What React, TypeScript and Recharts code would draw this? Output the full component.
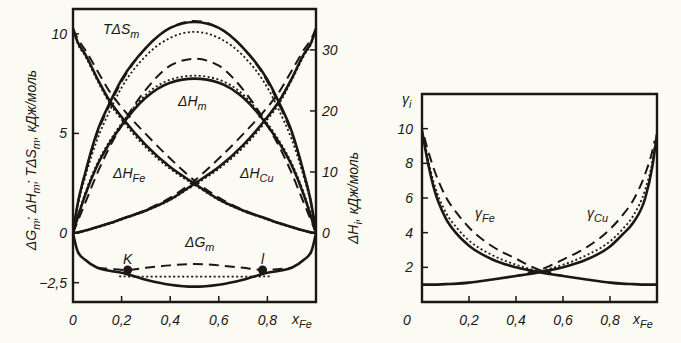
import { LineChart, Line, XAxis, YAxis, ReferenceArea, ReferenceDot } from "recharts";

const INK = "#1a1714";
const PAPER = "#fbfaf3";
const FONT = "'Liberation Sans', Arial, sans-serif";

// mole fraction of Fe, shared grid for the left panel curves
const xFe = [0, 0.02, 0.05, 0.1, 0.15, 0.2, 0.3, 0.4, 0.5, 0.6, 0.7, 0.8, 0.85, 0.9, 0.95, 0.98, 1];

// left panel, kJ/mol (left axis)
const tdsSolid = [0, 1.5, 3.0, 5.1, 6.5, 7.7, 9.3, 10.3, 10.6, 10.3, 9.3, 7.7, 6.5, 5.1, 3.0, 1.5, 0];
const tdsDotted = [0, 1.4, 2.8, 4.7, 6.1, 7.3, 8.9, 9.8, 10.1, 9.8, 8.9, 7.3, 6.1, 4.7, 2.8, 1.4, 0];
const tdsDashed = [0, 1.5, 3.0, 5.0, 6.4, 7.6, 9.3, 10.3, 10.65, 10.3, 9.3, 7.6, 6.4, 5.0, 3.0, 1.5, 0];

const dhmSolid = [0, 0.8, 1.9, 3.4, 4.5, 5.4, 6.8, 7.55, 7.75, 7.55, 6.8, 5.4, 4.5, 3.4, 1.9, 0.8, 0];
const dhmDotted = [0, 0.85, 2.0, 3.5, 4.6, 5.5, 6.95, 7.7, 7.9, 7.7, 6.95, 5.5, 4.6, 3.5, 2.0, 0.85, 0];
const dhmDashed = [0, 0.6, 1.5, 3.0, 4.3, 5.4, 7.2, 8.4, 8.75, 8.4, 7.2, 5.4, 4.3, 3.0, 1.5, 0.6, 0];

const dgmSolid = [0, -0.95, -1.35, -1.75, -1.9, -2.0, -2.35, -2.6, -2.7, -2.6, -2.35, -2.0, -1.9, -1.75, -1.35, -0.95, 0];
const xDgDashed = [0.1, 0.225, 0.3, 0.4, 0.5, 0.6, 0.7, 0.78, 0.9];
const dgmDashed = [-1.75, -1.86, -1.75, -1.63, -1.56, -1.63, -1.75, -1.86, -1.75];
const xDgDotted = [0.19, 0.3, 0.5, 0.7, 0.81];
const dgmDotted = [-2.18, -2.2, -2.2, -2.2, -2.18];

// points K and l on the dashed ΔGm curve
const kPoint = { x: 0.225, y: -1.86 };
const lPoint = { x: 0.78, y: -1.86 };

// partial molar enthalpies, kJ/mol (right axis)
const dhFeSolid = [33.5, 31.2, 29.3, 25.3, 21.7, 19.0, 14.4, 10.8, 8.1, 5.5, 3.7, 2.3, 1.6, 1.0, 0.4, 0.1, 0];
const dhFeDotted = [33.5, 31.0, 29.0, 25.0, 21.3, 18.6, 14.0, 10.5, 7.9, 5.4, 3.6, 2.2, 1.5, 0.9, 0.35, 0.1, 0];
const dhFeDashed = [33.5, 31.8, 30.0, 26.6, 23.2, 20.6, 16.2, 12.2, 8.6, 5.8, 3.8, 2.3, 1.6, 1.0, 0.4, 0.1, 0];
const dhCuSolid = [0, 0.1, 0.4, 1.0, 1.6, 2.3, 3.7, 5.5, 8.1, 10.8, 14.4, 19.0, 21.7, 25.3, 29.3, 31.2, 33.5];
const dhCuDotted = [0, 0.1, 0.35, 0.9, 1.5, 2.2, 3.6, 5.4, 7.9, 10.5, 14.0, 18.6, 21.3, 25.0, 29.0, 31.0, 33.5];
const dhCuDashed = [0, 0.1, 0.4, 1.0, 1.6, 2.3, 3.8, 5.8, 8.6, 12.2, 16.2, 20.6, 23.2, 26.6, 30.0, 31.8, 33.5];

// right panel: activity coefficients
const xG = [0, 0.02, 0.05, 0.1, 0.15, 0.2, 0.3, 0.4, 0.5, 0.6, 0.7, 0.8, 0.85, 0.9, 0.95, 0.98, 1];
const gFeSolid = [9.9, 8.4, 6.6, 4.85, 3.9, 3.25, 2.45, 2.0, 1.72, 1.5, 1.3, 1.12, 1.06, 1.03, 1.0, 1.0, 1.0];
const gCuSolid = [1.0, 1.0, 1.0, 1.03, 1.06, 1.12, 1.3, 1.5, 1.72, 2.0, 2.45, 3.2, 3.85, 4.6, 6.0, 7.8, 9.7];
const xGFe = [0.01, 0.02, 0.05, 0.1, 0.15, 0.2, 0.3, 0.4, 0.5, 0.55];
const gFeDotted = [9.3, 8.6, 6.9, 5.2, 4.25, 3.55, 2.7, 2.15, 1.78, 1.65];
const gFeDashed = [9.5, 9.0, 7.7, 6.1, 5.1, 4.3, 3.2, 2.5, 1.85, 1.7];
const xGCu = [0.45, 0.5, 0.6, 0.7, 0.8, 0.85, 0.9, 0.95, 0.98, 0.99];
const gCuDotted = [1.65, 1.78, 2.15, 2.7, 3.5, 4.15, 5.0, 6.5, 8.1, 9.0];
const gCuDashed = [1.7, 1.85, 2.45, 3.15, 4.2, 4.95, 5.9, 7.4, 8.7, 9.3];

const xTicks = [0, 0.2, 0.4, 0.6, 0.8];
const leftTicks = [-2.5, 0, 5, 10];
const dhTicks = [0, 10, 20, 30];
const gammaTicks = [2, 4, 6, 8, 10];

const pts = (xs: number[], ys: number[]) => xs.map((x, i) => ({ x, y: ys[i] }));
const fmt = (v: number) => String(v).replace(".", ",").replace("-", "−");

const tickText = { fontFamily: FONT, fontStyle: "italic", fontSize: 14, fill: INK } as const;
const solid = { stroke: INK, strokeWidth: 2.6, fill: "none" };
const dashed = { stroke: INK, strokeWidth: 2, strokeDasharray: "10 6", fill: "none" };
const dotted = { stroke: INK, strokeWidth: 1.8, strokeDasharray: "2 2.5", fill: "none" };

function LeftTick({ x, y, payload }: any) {
  return (
    <g>
      <line x1={x} x2={x + 6} y1={y} y2={y} stroke={INK} strokeWidth={1.5} />
      <text x={x - 6} y={y + 5} textAnchor="end" {...tickText}>{fmt(payload.value)}</text>
    </g>
  );
}

function RightTick({ x, y, payload }: any) {
  return (
    <g>
      <line x1={x} x2={x - 6} y1={y} y2={y} stroke={INK} strokeWidth={1.5} />
      <text x={x + 6} y={y + 5} textAnchor="start" {...tickText}>{fmt(payload.value)}</text>
    </g>
  );
}

function GammaTick({ x, y, payload }: any) {
  return (
    <g>
      <line x1={x} x2={x + 6} y1={y} y2={y} stroke={INK} strokeWidth={1.5} />
      <text x={x - 9} y={y + 5} textAnchor="end" {...tickText}>{fmt(payload.value)}</text>
    </g>
  );
}

function makeBottomTick(zeroShift: number) {
  return function BottomTick({ x, y, payload }: any) {
    const v = payload.value;
    return (
      <g>
        {v !== 0 && <line x1={x} x2={x} y1={y} y2={y - 6} stroke={INK} strokeWidth={1.5} />}
        <text x={v === 0 ? x + zeroShift : x} y={y + 23} textAnchor="middle" {...tickText}>
          {fmt(v)}
        </text>
      </g>
    );
  };
}

function Sub({ x, y, main, sub, size = 14 }: { x: number; y: number; main: string; sub: string; size?: number }) {
  return (
    <text x={x} y={y} fontFamily={FONT} fontStyle="italic" fontSize={size} fill={INK}>
      {main}
      <tspan fontSize={size * 0.78} dy={4}>{sub}</tspan>
    </text>
  );
}

function EnergyPanel() {
  return (
    <LineChart width={360} height={343} margin={{ top: 9, right: 0, bottom: 0, left: 0 }}>
      <XAxis
        type="number"
        dataKey="x"
        domain={[0, 1]}
        ticks={xTicks}
        interval={0}
        height={41}
        axisLine={false}
        tickLine={false}
        tickSize={0}
        tickMargin={0}
        tick={makeBottomTick(0)}
        allowDataOverflow
      />
      <YAxis
        yAxisId="left"
        type="number"
        domain={[-3.47, 11.25]}
        ticks={leftTicks}
        interval={0}
        width={73}
        axisLine={false}
        tickLine={false}
        tickSize={0}
        tickMargin={0}
        tick={<LeftTick />}
        allowDataOverflow
      />
      <YAxis
        yAxisId="right"
        orientation="right"
        type="number"
        domain={[-11.3, 36.7]}
        ticks={dhTicks}
        interval={0}
        width={44}
        axisLine={false}
        tickLine={false}
        tickSize={0}
        tickMargin={0}
        tick={<RightTick />}
        allowDataOverflow
      />
      <ReferenceArea yAxisId="left" x1={0} x2={1} y1={-3.47} y2={11.25} fill="none" fillOpacity={0} stroke={INK} strokeWidth={2.4} ifOverflow="visible" />

      <Line yAxisId="left" data={pts(xFe, tdsSolid)} dataKey="y" type="monotone" dot={false} activeDot={false} isAnimationActive={false} {...solid} />
      <Line yAxisId="left" data={pts(xFe, tdsDotted)} dataKey="y" type="monotone" dot={false} activeDot={false} isAnimationActive={false} {...dotted} />
      <Line yAxisId="left" data={pts(xFe, tdsDashed)} dataKey="y" type="monotone" dot={false} activeDot={false} isAnimationActive={false} {...dashed} />

      <Line yAxisId="left" data={pts(xFe, dhmSolid)} dataKey="y" type="monotone" dot={false} activeDot={false} isAnimationActive={false} {...solid} />
      <Line yAxisId="left" data={pts(xFe, dhmDotted)} dataKey="y" type="monotone" dot={false} activeDot={false} isAnimationActive={false} {...dotted} />
      <Line yAxisId="left" data={pts(xFe, dhmDashed)} dataKey="y" type="monotone" dot={false} activeDot={false} isAnimationActive={false} {...dashed} />

      <Line yAxisId="right" data={pts(xFe, dhFeSolid)} dataKey="y" type="monotone" dot={false} activeDot={false} isAnimationActive={false} {...solid} />
      <Line yAxisId="right" data={pts(xFe, dhFeDotted)} dataKey="y" type="monotone" dot={false} activeDot={false} isAnimationActive={false} {...dotted} />
      <Line yAxisId="right" data={pts(xFe, dhFeDashed)} dataKey="y" type="monotone" dot={false} activeDot={false} isAnimationActive={false} {...dashed} />
      <Line yAxisId="right" data={pts(xFe, dhCuSolid)} dataKey="y" type="monotone" dot={false} activeDot={false} isAnimationActive={false} {...solid} />
      <Line yAxisId="right" data={pts(xFe, dhCuDotted)} dataKey="y" type="monotone" dot={false} activeDot={false} isAnimationActive={false} {...dotted} />
      <Line yAxisId="right" data={pts(xFe, dhCuDashed)} dataKey="y" type="monotone" dot={false} activeDot={false} isAnimationActive={false} {...dashed} />

      <Line yAxisId="left" data={pts(xFe, dgmSolid)} dataKey="y" type="monotone" dot={false} activeDot={false} isAnimationActive={false} {...solid} />
      <Line yAxisId="left" data={pts(xDgDashed, dgmDashed)} dataKey="y" type="monotone" dot={false} activeDot={false} isAnimationActive={false} {...dashed} />
      <Line yAxisId="left" data={pts(xDgDotted, dgmDotted)} dataKey="y" type="monotone" dot={false} activeDot={false} isAnimationActive={false} {...dotted} />

      <ReferenceDot yAxisId="left" x={kPoint.x} y={kPoint.y} r={4.5} fill={INK} stroke="none" />
      <ReferenceDot yAxisId="left" x={lPoint.x} y={lPoint.y} r={4.5} fill={INK} stroke="none" />
    </LineChart>
  );
}

function GammaPanel() {
  return (
    <LineChart width={301} height={343} margin={{ top: 94, right: 24, bottom: 0, left: 0 }}>
      <XAxis
        type="number"
        dataKey="x"
        domain={[0, 1]}
        ticks={xTicks}
        interval={0}
        height={41}
        axisLine={false}
        tickLine={false}
        tickSize={0}
        tickMargin={0}
        tick={makeBottomTick(-15)}
        allowDataOverflow
      />
      <YAxis
        type="number"
        domain={[0, 12]}
        ticks={gammaTicks}
        interval={0}
        width={42}
        axisLine={false}
        tickLine={false}
        tickSize={0}
        tickMargin={0}
        tick={<GammaTick />}
        allowDataOverflow
      />
      <ReferenceArea x1={0} x2={1} y1={0} y2={12} fill="none" fillOpacity={0} stroke={INK} strokeWidth={2.4} ifOverflow="visible" />

      <Line data={pts(xG, gFeSolid)} dataKey="y" type="monotone" dot={false} activeDot={false} isAnimationActive={false} {...solid} />
      <Line data={pts(xGFe, gFeDotted)} dataKey="y" type="monotone" dot={false} activeDot={false} isAnimationActive={false} {...dotted} />
      <Line data={pts(xGFe, gFeDashed)} dataKey="y" type="monotone" dot={false} activeDot={false} isAnimationActive={false} {...dashed} />
      <Line data={pts(xG, gCuSolid)} dataKey="y" type="monotone" dot={false} activeDot={false} isAnimationActive={false} {...solid} />
      <Line data={pts(xGCu, gCuDotted)} dataKey="y" type="monotone" dot={false} activeDot={false} isAnimationActive={false} {...dotted} />
      <Line data={pts(xGCu, gCuDashed)} dataKey="y" type="monotone" dot={false} activeDot={false} isAnimationActive={false} {...dashed} />
    </LineChart>
  );
}

export default function App() {
  return (
    <div style={{ position: "fixed", left: 0, top: 0, width: 681, height: 343, background: PAPER, overflow: "hidden" }}>
      <div style={{ position: "absolute", left: 0, top: 0 }}>
        <EnergyPanel />
      </div>
      <div style={{ position: "absolute", left: 380, top: 0 }}>
        <GammaPanel />
      </div>
      <svg width={681} height={343} style={{ position: "absolute", left: 0, top: 0, pointerEvents: "none" }}>
        {/* curve labels, left panel */}
        <Sub x={103} y={34} main="TΔS" sub="m" />
        <Sub x={178} y={106} main="ΔH" sub="m" />
        <Sub x={113} y={178} main="ΔH" sub="Fe" />
        <Sub x={240} y={178} main="ΔH" sub="Cu" />
        <Sub x={185} y={247} main="ΔG" sub="m" />
        <text x={123} y={264} fontFamily={FONT} fontStyle="italic" fontSize={14} fill={INK}>K</text>
        <text x={261} y={264} fontFamily={FONT} fontStyle="italic" fontSize={14} fill={INK}>l</text>
        <Sub x={292} y={324} main="x" sub="Fe" />

        {/* right panel */}
        <Sub x={402} y={104} main="γ" sub="i" />
        <Sub x={475} y={218} main="γ" sub="Fe" />
        <Sub x={587} y={218} main="γ" sub="Cu" />
        <Sub x={633} y={324} main="x" sub="Fe" />

        {/* axis titles */}
        <text transform="translate(36,160) rotate(-90)" textAnchor="middle" fontFamily={FONT} fontStyle="italic" fontSize={14} fill={INK}>
          ΔG<tspan fontSize={11} dy={4}>m</tspan><tspan dy={-4}>; ΔH</tspan><tspan fontSize={11} dy={4}>m</tspan>
          <tspan dy={-4}>; TΔS</tspan><tspan fontSize={11} dy={4}>m</tspan><tspan dy={-4}>, кДж/моль</tspan>
        </text>
        <text transform="translate(358,198) rotate(-90)" textAnchor="middle" fontFamily={FONT} fontStyle="italic" fontSize={14} fill={INK}>
          ΔH<tspan fontSize={11} dy={4}>i</tspan><tspan dy={-4}>, кДж/моль</tspan>
        </text>
      </svg>
    </div>
  );
}
